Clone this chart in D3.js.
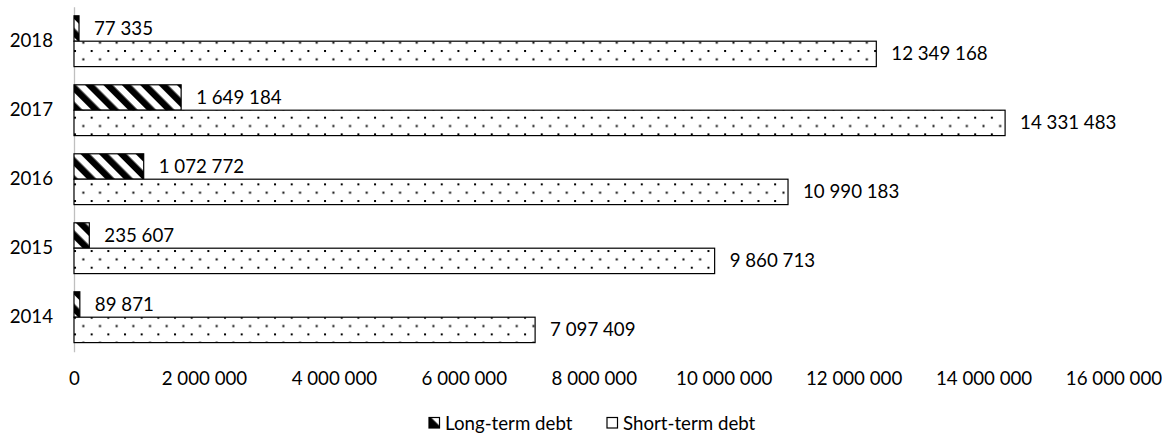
<!DOCTYPE html>
<html>
<head>
<meta charset="utf-8">
<script src="https://cdn.jsdelivr.net/npm/d3@7"></script>
<style>
  html, body { margin: 0; padding: 0; background: #fff; }
  svg { display: block; }
  text { font-family: Lato, "Open Sans", sans-serif; fill: #000; }
</style>
</head>
<body>
<svg id="chart" width="1162" height="439"></svg>
<script>
// Debt by year, in currency units
const years = [2014, 2015, 2016, 2017, 2018];
const longTermDebt = [89871, 235607, 1072772, 1649184, 77335];
const shortTermDebt = [7097409, 9860713, 10990183, 14331483, 12349168];
const xTicks = [0, 2000000, 4000000, 6000000, 8000000, 10000000, 12000000, 14000000, 16000000];
const seriesNames = ["Long-term debt", "Short-term debt"];

const fontSize = 18.7;
const svg = d3.select("#chart");

const locale = d3.formatLocale({ decimal: ",", thousands: " ", grouping: [3], currency: ["", ""] });
const fmt = locale.format(",d");

// Fill patterns: wide downward diagonal for long-term, sparse dots for short-term
const defs = svg.append("defs");
const stripe = defs.append("pattern")
  .attr("id", "pat-long")
  .attr("patternUnits", "userSpaceOnUse")
  .attr("width", 13).attr("height", 13)
  .attr("patternTransform", "rotate(-45)");
stripe.append("rect").attr("width", 13).attr("height", 13).attr("fill", "#fff");
stripe.append("rect").attr("width", 6.6).attr("height", 13).attr("fill", "#000");

const dots = defs.append("pattern")
  .attr("id", "pat-short")
  .attr("patternUnits", "userSpaceOnUse")
  .attr("x", 74).attr("y", 0)
  .attr("width", 16.67).attr("height", 16.67);
dots.append("rect").attr("width", 16.67).attr("height", 16.67).attr("fill", "#fff");
dots.append("rect").attr("x", 0).attr("y", 0).attr("width", 2).attr("height", 2).attr("fill", "#000");
dots.append("rect").attr("x", 8.33).attr("y", 8.33).attr("width", 2).attr("height", 2).attr("fill", "#000");

// Legend swatch for the long-term series: dark square with a light diagonal wedge
const swatch = defs.append("pattern")
  .attr("id", "pat-long-key")
  .attr("patternUnits", "objectBoundingBox")
  .attr("patternContentUnits", "objectBoundingBox")
  .attr("width", 1).attr("height", 1);
swatch.append("rect").attr("width", 1).attr("height", 1).attr("fill", "#000");
swatch.append("path").attr("d", "M0.2,0 L1,0.8 L1,0 Z").attr("fill", "#fff");

// Scales
const x = d3.scaleLinear().domain([0, 16000000]).range([74, 1113.5]);
const y = d3.scaleBand().domain(years.slice().reverse()).range([6.7, 351.7]).padding(0);
const barH = 25.4;

// Value axis labels (no line, no ticks)
const xAxis = d3.axisBottom(x)
  .tickValues(xTicks)
  .tickFormat(d => fmt(d))
  .tickSize(0)
  .tickPadding(0);
const gx = svg.append("g").attr("transform", "translate(0,372)").call(xAxis);
gx.select(".domain").remove();
gx.selectAll("text")
  .style("font-family", "Lato, 'Open Sans', sans-serif")
  .style("font-size", fontSize + "px")
  .attr("fill", "#000")
  .attr("dy", "0.35em")
  .attr("y", 6);

// Category axis
const yAxis = d3.axisLeft(y).tickSize(0).tickPadding(21);
const gy = svg.append("g").attr("transform", `translate(${x(0)},0)`).call(yAxis);
gy.select(".domain").attr("stroke", "#bfbfbf").attr("stroke-width", 1.3);
gy.selectAll("text")
  .style("font-family", "Lato, 'Open Sans', sans-serif")
  .style("font-size", fontSize + "px")
  .attr("fill", "#000");

// Bars
const rows = years.map((yr, i) => ({ year: yr, long: longTermDebt[i], short: shortTermDebt[i] }));
const center = d => y(d.year) + y.bandwidth() / 2;

const series = [
  { key: "long", fill: "url(#pat-long)", top: d => center(d) - barH },
  { key: "short", fill: "url(#pat-short)", top: d => center(d) }
];

series.forEach(s => {
  svg.append("g").selectAll("rect")
    .data(rows)
    .join("rect")
    .attr("x", x(0))
    .attr("y", d => s.top(d))
    .attr("width", d => x(d[s.key]) - x(0))
    .attr("height", barH)
    .attr("fill", s.fill)
    .attr("stroke", "#000")
    .attr("stroke-width", 1.2);

  svg.append("g").selectAll("text")
    .data(rows)
    .join("text")
    .attr("x", d => x(d[s.key]) + 15)
    .attr("y", d => s.top(d) + barH / 2)
    .attr("dy", "0.35em")
    .style("font-size", fontSize + "px")
    .text(d => fmt(d[s.key]));
});

// Legend
const legendItems = [
  { name: seriesNames[0], fill: "url(#pat-long-key)", x: 429 },
  { name: seriesNames[1], fill: "#fff", x: 607 }
];
const lg = svg.append("g");
legendItems.forEach(item => {
  lg.append("rect")
    .attr("x", item.x).attr("y", 417.5)
    .attr("width", 10.5).attr("height", 10.5)
    .attr("fill", item.fill)
    .attr("stroke", "#000").attr("stroke-width", 1.2);
  lg.append("text")
    .attr("x", item.x + 16).attr("y", 423)
    .attr("dy", "0.35em")
    .style("font-size", fontSize + "px")
    .text(item.name);
});
</script>
</body>
</html>
